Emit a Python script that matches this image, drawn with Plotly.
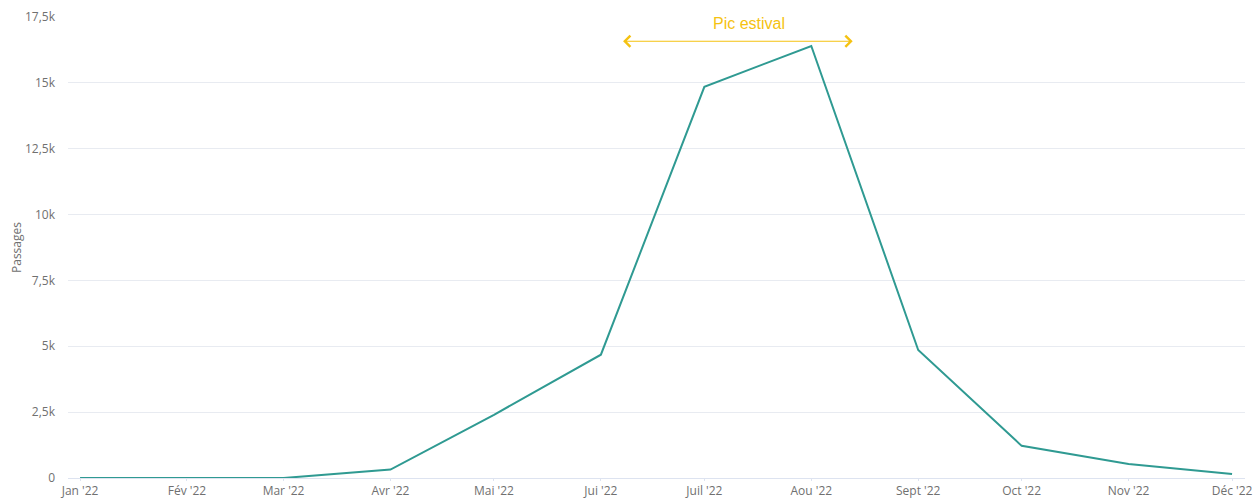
import plotly.graph_objects as go

months = ["2022-01-01", "2022-02-01", "2022-03-01", "2022-04-01", "2022-05-01", "2022-06-01",
          "2022-07-01", "2022-08-01", "2022-09-01", "2022-10-01", "2022-11-01", "2022-12-01"]
month_labels = ["Jan '22", "Fév '22", "Mar '22", "Avr '22", "Mai '22", "Jui '22",
                "Juil '22", "Aou '22", "Sept '22", "Oct '22", "Nov '22", "Déc '22"]
passages = [0, 0, 0, 320, 2400, 4680, 14850, 16400, 4860, 1220, 530, 150]

y_ticks = [0, 2500, 5000, 7500, 10000, 12500, 15000, 17500]
y_tick_labels = ["0", "2,5k", "5k", "7,5k", "10k", "12,5k", "15k", "17,5k"]

fig = go.Figure()
fig.add_trace(go.Scatter(x=months, y=passages, mode="lines",
                         line=dict(color="#2f9a92", width=2), hoverinfo="x+y"))

fig.update_layout(
    width=1255, height=499,
    margin=dict(l=68, r=10, t=17, b=21, autoexpand=False),
    plot_bgcolor="white", paper_bgcolor="white",
    showlegend=False,
    font=dict(family="Open Sans", color="#707070", size=12),
)

fig.update_xaxes(
    type="date", automargin=False,
    range=["2021-12-28 12:00", "2022-12-04 18:00"],
    tickvals=months, ticktext=month_labels,
    showgrid=False, zeroline=False,
    showline=True, linecolor="#dde3f0", linewidth=1,
    ticks="outside", ticklen=2, tickcolor="#dde3f0",
    tickfont=dict(size=12, color="#707070"),
)
fig.update_yaxes(
    range=[0, 17500], automargin=False,
    tickvals=y_ticks, ticktext=y_tick_labels,
    showgrid=True, gridcolor="#e8ebf1", gridwidth=1,
    zeroline=False, showline=False,
    ticklabelstandoff=12,
    tickfont=dict(size=12, color="#707070"),
)

fig.add_annotation(x=0.0, y=0.5, xref="paper", yref="paper", xshift=-62,
                   text="Passages", textangle=-90, showarrow=False,
                   font=dict(size=12, color="#707070"))

# double arrow for the summer peak
fig.add_annotation(x="2022-08-13", y=16580, ax="2022-06-07", ay=16580,
                   xref="x", yref="y", axref="x", ayref="y",
                   text="", showarrow=True, arrowside="end+start",
                   arrowhead=4, arrowsize=1.8, arrowwidth=1.2, arrowcolor="#f5c211")
fig.add_annotation(x="2022-07-14", y=17260, xref="x", yref="y",
                   text="Pic estival", showarrow=False,
                   font=dict(family="Liberation Sans", size=16, color="#f5c211"))

fig.write_html("out.html", config={"displayModeBar": False},
               post_script="document.body.style.margin='0';")
